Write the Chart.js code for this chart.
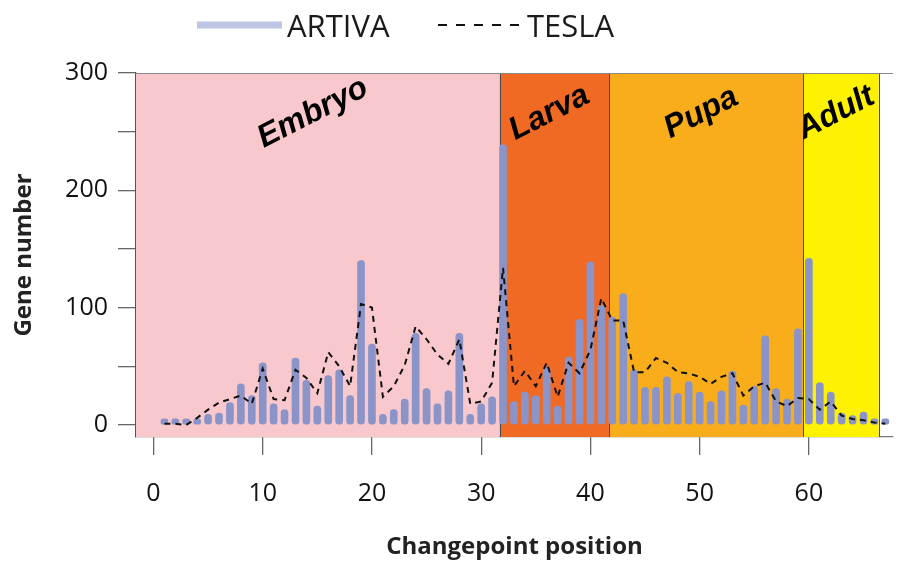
<!DOCTYPE html>
<html>
<head>
<meta charset="utf-8">
<script src="https://cdn.jsdelivr.net/npm/chart.js@4.4.0/dist/chart.umd.min.js"></script>
<style>
  html, body { margin: 0; padding: 0; background: #fff; }
  #chart { display: block; }
</style>
</head>
<body>
<canvas id="chart" width="901" height="562"></canvas>
<script>
// changepoint positions along the developmental series
const positions = [1, 2, 3, 4, 5, 6, 7, 8, 9, 10, 11, 12, 13, 14, 15, 16, 17, 18, 19, 20,
  21, 22, 23, 24, 25, 26, 27, 28, 29, 30, 31, 32, 33, 34, 35, 36, 37, 38, 39, 40,
  41, 42, 43, 44, 45, 46, 47, 48, 49, 50, 51, 52, 53, 54, 55, 56, 57, 58, 59, 60,
  61, 62, 63, 64, 65, 66, 67];

const artiva = [2, 2, 2, 5, 9, 10, 19, 35, 25, 53, 18, 13, 57, 38, 16, 42, 47, 25, 140, 69,
  9, 13, 22, 78, 31, 18, 29, 78, 9, 18, 24, 239, 20, 28, 25, 49, 16, 58, 90, 139,
  102, 92, 112, 47, 32, 32, 41, 27, 37, 28, 20, 29, 46, 17, 33, 76, 31, 22, 82, 142,
  36, 28, 10, 8, 11, 5, 3];

const tesla = [1, 1, 0, 6, 13, 19, 22, 25, 18, 48, 22, 21, 47, 40, 27, 62, 50, 33, 103, 100,
  24, 33, 51, 84, 73, 60, 52, 73, 18, 20, 36, 134, 33, 46, 33, 53, 24, 53, 44, 64,
  108, 89, 89, 45, 45, 57, 53, 45, 44, 41, 35, 41, 44, 25, 33, 36, 20, 16, 23, 22,
  13, 20, 8, 5, 4, 2, 1];

const stageNames = ["Embryo", "Larva", "Pupa", "Adult"];
const stageStart = [-1.6, 31.7, 41.7, 59.5];
const stageEnd = [31.7, 41.7, 59.5, 66.4];

const xTicks = [0, 10, 20, 30, 40, 50, 60];
const yTicks = [0, 50, 100, 150, 200, 250, 300];

const stageColors = ["#f9c8cc", "#f16a24", "#f9ad1b", "#fff200"];
const FONT = '"Open Sans", "Noto Sans", sans-serif';

const stagePlugin = {
  id: "stages",
  beforeDatasetsDraw(chart) {
    const { ctx, chartArea: a, scales: { x } } = chart;
    ctx.save();
    stageNames.forEach((name, i) => {
      const x0 = x.getPixelForValue(stageStart[i]);
      const x1 = x.getPixelForValue(stageEnd[i]);
      ctx.fillStyle = stageColors[i];
      ctx.fillRect(x0, a.top, x1 - x0, a.bottom - a.top);
    });
    ctx.strokeStyle = "#4a4a4a";
    ctx.lineWidth = 1;
    stageNames.forEach((name, i) => {
      const xe = Math.round(x.getPixelForValue(stageEnd[i])) + 0.5;
      ctx.beginPath();
      ctx.moveTo(xe, a.top);
      ctx.lineTo(xe, a.bottom);
      ctx.stroke();
    });
    // top frame
    ctx.strokeStyle = "#8a8a8a";
    ctx.beginPath();
    ctx.moveTo(a.left, a.top + 0.5);
    ctx.lineTo(a.right, a.top + 0.5);
    ctx.stroke();

    ctx.fillStyle = "#000";
    ctx.font = 'italic bold 32px "Liberation Sans", Arial, sans-serif';
    ctx.textAlign = "center";
    ctx.textBaseline = "middle";
    stageNames.forEach((name, i) => {
      const cx = x.getPixelForValue((stageStart[i] + stageEnd[i]) / 2) - 5;
      ctx.save();
      ctx.translate(cx, a.top + 40);
      ctx.rotate(-27 * Math.PI / 180);
      ctx.fillText(name, 0, 0);
      ctx.restore();
    });
    ctx.restore();
  },
  afterDraw(chart) {
    const ctx = chart.ctx;
    ctx.save();
    ctx.lineCap = "butt";
    ctx.strokeStyle = "#bfc6e4";
    ctx.lineWidth = 7;
    ctx.beginPath();
    ctx.moveTo(197, 25);
    ctx.lineTo(282, 25);
    ctx.stroke();
    ctx.strokeStyle = "#111";
    ctx.lineWidth = 2;
    ctx.setLineDash([9, 9]);
    ctx.beginPath();
    ctx.moveTo(438, 25);
    ctx.lineTo(520, 25);
    ctx.stroke();
    ctx.setLineDash([]);
    ctx.fillStyle = "#1a1a1a";
    ctx.font = "31px " + FONT;
    ctx.textBaseline = "alphabetic";
    ctx.textAlign = "left";
    ctx.fillText("ARTIVA", 287, 37);
    ctx.fillText("TESLA", 527, 37);
    ctx.restore();
  }
};

new Chart(document.getElementById("chart"), {
  type: "bar",
  data: {
    datasets: [
      {
        type: "line",
        label: "TESLA",
        data: positions.map((p, i) => ({ x: p, y: tesla[i] })),
        borderColor: "#111",
        borderWidth: 2,
        borderDash: [6, 5],
        pointRadius: 0,
        tension: 0,
        fill: false,
        order: 0
      },
      {
        label: "ARTIVA",
        data: positions.map((p, i) => ({ x: p, y: artiva[i] })),
        backgroundColor: "#8a94c8",
        barThickness: 7,
        borderRadius: 4,
        borderSkipped: false,
        minBarLength: 6,
        order: 1
      }
    ]
  },
  options: {
    responsive: false,
    animation: false,
    devicePixelRatio: 1,
    layout: { padding: { top: 73, right: 8, left: 0, bottom: 0 } },
    plugins: { legend: { display: false }, tooltip: { enabled: false } },
    scales: {
      x: {
        type: "linear",
        min: -1.6,
        max: 67.7,
        offset: false,
        afterBuildTicks: (s) => { s.ticks = xTicks.map((v) => ({ value: v })); },
        afterFit: (s) => { s.height = 125; },
        grid: { offset: false, drawOnChartArea: false, drawTicks: true, tickLength: 18, color: "#666", lineWidth: 1.3 },
        border: { display: true, color: "#777", width: 1.3 },
        ticks: { font: { family: FONT, size: 25 }, color: "#111", padding: 24, maxRotation: 0 },
        title: {
          display: true,
          text: "Changepoint position",
          font: { family: FONT, size: 24, weight: "bold" },
          color: "#222",
          padding: { top: 0, bottom: 0 }
        }
      },
      y: {
        min: -10.3,
        max: 300,
        afterBuildTicks: (s) => { s.ticks = yTicks.map((v) => ({ value: v })); },
        afterFit: (s) => { s.width = 136; },
        grid: { drawOnChartArea: false, drawTicks: true, tickLength: 18, color: "#666", lineWidth: 1.3 },
        border: { display: true, color: "#555", width: 1.3 },
        ticks: {
          font: { family: FONT, size: 25 },
          color: "#111",
          padding: 10,
          callback: (v) => (v % 100 === 0 ? String(v) : "")
        },
        title: {
          display: true,
          text: "Gene number",
          font: { family: FONT, size: 24, weight: "bold" },
          color: "#222",
          padding: { top: 10, bottom: 0 }
        }
      }
    }
  },
  plugins: [stagePlugin]
});
</script>
</body>
</html>
